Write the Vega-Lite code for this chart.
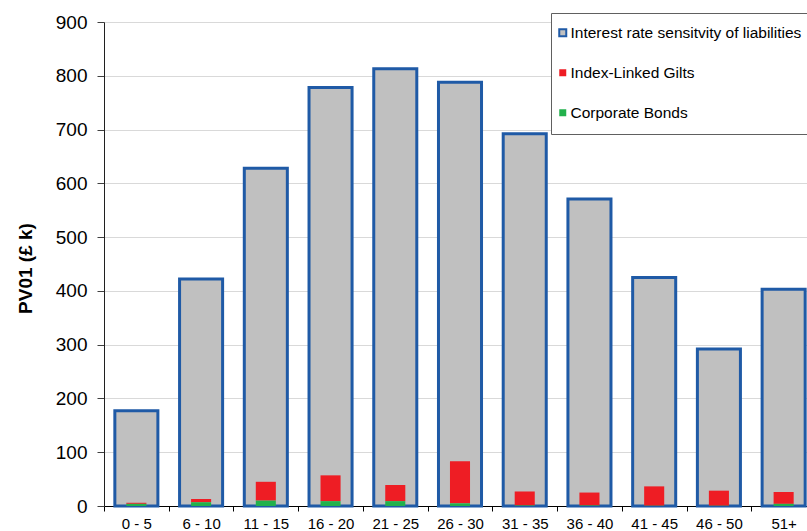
{
  "$schema": "https://vega.github.io/schema/vega-lite/v6.json",
  "autosize": "none",
  "width": 712,
  "height": 484,
  "padding": {"left": 104, "top": 22, "right": 0, "bottom": 25},
  "background": "white",
  "config": {
    "font": "Liberation Sans",
    "view": {"stroke": null}
  },
  "data": {
    "values": [
      {"bucket": "0 - 5", "series": "Interest rate sensitvity of liabilities", "value": 177},
      {"bucket": "6 - 10", "series": "Interest rate sensitvity of liabilities", "value": 422},
      {"bucket": "11 - 15", "series": "Interest rate sensitvity of liabilities", "value": 628},
      {"bucket": "16 - 20", "series": "Interest rate sensitvity of liabilities", "value": 778},
      {"bucket": "21 - 25", "series": "Interest rate sensitvity of liabilities", "value": 813},
      {"bucket": "26 - 30", "series": "Interest rate sensitvity of liabilities", "value": 788},
      {"bucket": "31 - 35", "series": "Interest rate sensitvity of liabilities", "value": 692},
      {"bucket": "36 - 40", "series": "Interest rate sensitvity of liabilities", "value": 571},
      {"bucket": "41 - 45", "series": "Interest rate sensitvity of liabilities", "value": 425},
      {"bucket": "46 - 50", "series": "Interest rate sensitvity of liabilities", "value": 292},
      {"bucket": "51+", "series": "Interest rate sensitvity of liabilities", "value": 403},
      {"bucket": "0 - 5", "series": "Index-Linked Gilts", "value": 2},
      {"bucket": "6 - 10", "series": "Index-Linked Gilts", "value": 6},
      {"bucket": "11 - 15", "series": "Index-Linked Gilts", "value": 35},
      {"bucket": "16 - 20", "series": "Index-Linked Gilts", "value": 48},
      {"bucket": "21 - 25", "series": "Index-Linked Gilts", "value": 30},
      {"bucket": "26 - 30", "series": "Index-Linked Gilts", "value": 78},
      {"bucket": "31 - 35", "series": "Index-Linked Gilts", "value": 26},
      {"bucket": "36 - 40", "series": "Index-Linked Gilts", "value": 24},
      {"bucket": "41 - 45", "series": "Index-Linked Gilts", "value": 36},
      {"bucket": "46 - 50", "series": "Index-Linked Gilts", "value": 28},
      {"bucket": "51+", "series": "Index-Linked Gilts", "value": 22},
      {"bucket": "0 - 5", "series": "Corporate Bonds", "value": 4},
      {"bucket": "6 - 10", "series": "Corporate Bonds", "value": 7},
      {"bucket": "11 - 15", "series": "Corporate Bonds", "value": 10},
      {"bucket": "16 - 20", "series": "Corporate Bonds", "value": 9},
      {"bucket": "21 - 25", "series": "Corporate Bonds", "value": 9},
      {"bucket": "26 - 30", "series": "Corporate Bonds", "value": 5},
      {"bucket": "31 - 35", "series": "Corporate Bonds", "value": 1},
      {"bucket": "36 - 40", "series": "Corporate Bonds", "value": 1},
      {"bucket": "41 - 45", "series": "Corporate Bonds", "value": 0.5},
      {"bucket": "46 - 50", "series": "Corporate Bonds", "value": 0.5},
      {"bucket": "51+", "series": "Corporate Bonds", "value": 4}
    ]
  },
  "encoding": {
    "x": {
      "field": "bucket",
      "type": "nominal",
      "sort": null,
      "scale": {"paddingInner": 0, "paddingOuter": 0},
      "axis": {
        "title": null,
        "labelAngle": 0,
        "labelFontSize": 15,
        "labelColor": "#000000",
        "labelPadding": 5,
        "tickBand": "extent",
        "tickSize": 5,
        "tickColor": "#000000",
        "domainColor": "#000000",
        "domainWidth": 1
      }
    },
    "y": {
      "field": "value",
      "type": "quantitative",
      "stack": true,
      "scale": {"domain": [0, 900], "nice": false},
      "axis": {
        "title": "PV01 (£ k)",
        "titleFontSize": 19,
        "titleFontWeight": "bold",
        "titleColor": "#000000",
        "titleX": -79,
        "titleY": 246,
        "titleAngle": -90,
        "titleAlign": "center",
        "titleBaseline": "middle",
        "values": [0, 100, 200, 300, 400, 500, 600, 700, 800, 900],
        "labelFontSize": 19,
        "labelColor": "#000000",
        "labelPadding": 10,
        "tickSize": 7,
        "tickColor": "#404040",
        "domainColor": "#202020",
        "gridColor": "#D9D9D9",
        "gridWidth": 1.2
      }
    },
    "fill": {
      "field": "series",
      "type": "nominal",
      "scale": {
        "domain": ["Interest rate sensitvity of liabilities", "Index-Linked Gilts", "Corporate Bonds"],
        "range": ["#C0C0C0", "#EE1D24", "#22B14C"]
      },
      "legend": {
        "title": null,
        "orient": "none",
        "legendX": 447,
        "legendY": -9,
        "padding": 12,
        "strokeColor": "#606060",
        "fillColor": "#FFFFFF",
        "symbolType": "square",
        "symbolSize": 49,
        "symbolStrokeWidth": 2,
        "symbolOffset": -8,
        "labelFontSize": 15.5,
        "labelColor": "#000000",
        "labelOffset": 0,
        "labelLimit": 400,
        "rowPadding": 23,
        "encode": {
          "symbols": {
            "update": {
              "stroke": {"signal": "datum.value === 'Interest rate sensitvity of liabilities' ? '#1F5AA6' : null"},
              "strokeWidth": {"value": 2}
            }
          }
        }
      }
    }
  },
  "layer": [
    {
      "transform": [{"filter": "datum.series === 'Interest rate sensitvity of liabilities'"}],
      "mark": {"type": "bar", "width": {"band": 0.665}, "stroke": "#1F5AA6", "strokeWidth": 3},
      "encoding": {}
    },
    {
      "transform": [{"filter": "datum.series !== 'Interest rate sensitvity of liabilities'"}],
      "mark": {"type": "bar", "width": {"band": 0.31}},
      "encoding": {
        "order": {"field": "series", "sort": "ascending"}
      }
    }
  ]
}
